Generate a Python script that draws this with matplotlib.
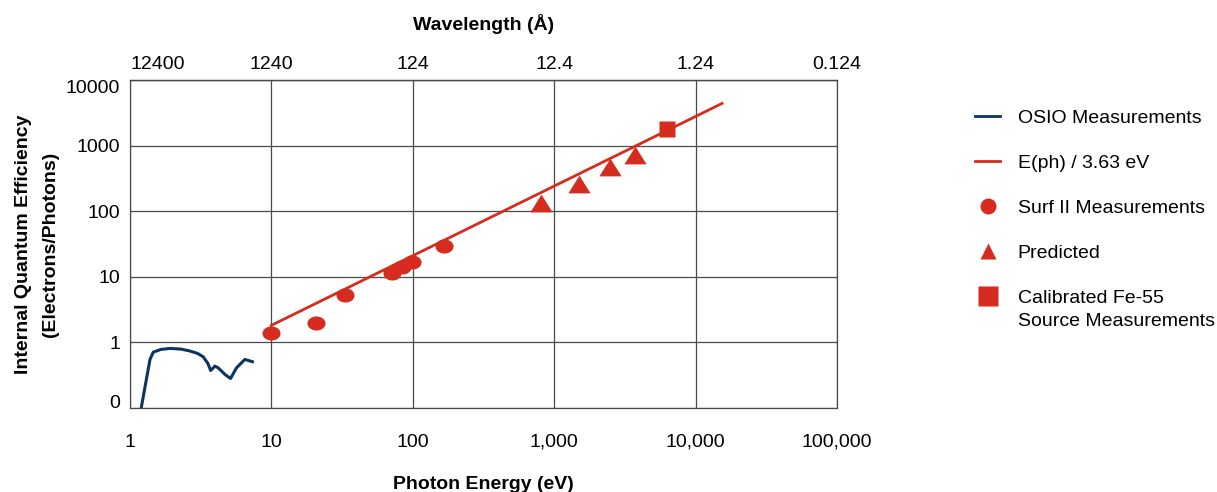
import numpy as np
import matplotlib
matplotlib.use("Agg")
import matplotlib.pyplot as plt
from matplotlib.lines import Line2D
from matplotlib.path import Path

plt.rcParams['font.family'] = ['Liberation Sans', 'DejaVu Sans']

# ---- data ----
osio_energy = [1.2, 1.385, 1.46, 1.65, 1.92, 2.3, 2.65, 3.0, 3.29, 3.55, 3.72, 3.99, 4.2, 4.69, 5.14, 5.67, 6.49, 7.52]
osio_qe = [0.1, 0.55, 0.71, 0.78, 0.81, 0.79, 0.74, 0.68, 0.605, 0.48, 0.373, 0.435, 0.41, 0.325, 0.282, 0.41, 0.55, 0.50]

theory_energy = [10, 15400]
theory_qe = [1.82, 4400]

surf_energy = [10, 20.6, 33, 71.4, 83.6, 98.9, 166]
surf_qe = [1.41, 1.97, 5.2, 11.6, 14.1, 16.8, 29.2]

pred_energy = [807, 1490, 2467, 3705]
pred_qe = [132, 261, 465, 716]

fe55_energy = [6310]
fe55_qe = [1786]

x_ticks = [1, 10, 100, 1000, 10000, 100000]
x_ticklabels = ['1', '10', '100', '1,000', '10,000', '100,000']
wl_ticks = [12400, 1240, 124, 12.4, 1.24, 0.124]
wl_ticklabels = ['12400', '1240', '124', '12.4', '1.24', '0.124']
y_ticks = [0.1, 1, 10, 100, 1000, 10000]
y_ticklabels = ['0', '1', '10', '100', '1000', '10000']

labels = ['OSIO Measurements', 'E(ph) / 3.63 eV', 'Surf II Measurements',
          'Predicted', 'Calibrated Fe-55']
label_extra = 'Source Measurements'

RED = '#d62b1f'
NAVY = '#0c3461'
GRID = '#4a4a4a'

fig = plt.figure(figsize=(12.17, 4.92), dpi=100)
ax = fig.add_axes([130/1217, 1-408/492, (837-130)/1217, (408-80)/492])
ax.set_xscale('log')
ax.set_yscale('log')
ax.set_xlim(1, 100000)
ax.set_ylim(0.1, 10000)

# ellipse marker (wider than tall)
t = np.linspace(0, 2*np.pi, 60)
ell = Path(np.column_stack([np.cos(t), 0.78*np.sin(t)]), closed=True)
tri = Path([(0, 0.8), (-1, -0.8), (1, -0.8), (0, 0.8)], closed=True)

ax.plot(osio_energy, osio_qe, color=NAVY, lw=2.2, zorder=3, solid_capstyle='butt')
ax.plot(theory_energy, theory_qe, color=RED, lw=2.0, zorder=3)
ax.plot(surf_energy, surf_qe, ls='none', marker=ell, ms=13, color=RED, mec='none', zorder=4)
ax.plot(pred_energy, pred_qe, ls='none', marker=tri, ms=16, color=RED, mec='none', zorder=4)
ax.plot(fe55_energy, fe55_qe, ls='none', marker='s', ms=11.3, color=RED, mec='none', zorder=4)

ax.set_xticks(x_ticks)
ax.set_xticklabels(x_ticklabels)
ax.set_yticks(y_ticks)
ylabs = ax.set_yticklabels(y_ticklabels)
ylabs[0].set_va('baseline')
ylabs[-1].set_va('top')
ax.minorticks_off()
ax.tick_params(axis='x', length=0, pad=18.5, labelsize=14)
ax.tick_params(axis='y', length=0, pad=7, labelsize=14)
ax.grid(True, which='major', color=GRID, lw=0.9)
for s in ax.spines.values():
    s.set_color(GRID)
    s.set_linewidth(0.9)

ax.set_xlabel('Photon Energy (eV)', fontsize=14, fontweight='bold', labelpad=18)
ax.set_ylabel('Internal Quantum Efficiency\n(Electrons/Photons)', fontsize=14,
              fontweight='bold', labelpad=5, linespacing=1.8)

sec = ax.secondary_xaxis('top', functions=(lambda e: 12400/e, lambda w: 12400/w))
sec.set_xticks(wl_ticks)
tlabs = sec.set_xticklabels(wl_ticklabels)
tlabs[0].set_ha('left')
sec.minorticks_off()
sec.tick_params(axis='x', length=0, pad=5, labelsize=14)
sec.spines['top'].set_color(GRID)
sec.spines['top'].set_linewidth(0.9)
sec.set_xlabel('Wavelength (Å)', fontsize=14, fontweight='bold', labelpad=19)

handles = [
    Line2D([], [], color=NAVY, lw=2.0),
    Line2D([], [], color=RED, lw=2.0),
    Line2D([], [], ls='none', marker='o', ms=11.5, color=RED, mec='none'),
    Line2D([], [], ls='none', marker='^', ms=12, color=RED, mec='none'),
    Line2D([], [], ls='none', marker='s', ms=13.7, color=RED, mec='none'),
]
fig.legend(handles, labels, loc='upper left', bbox_to_anchor=(975/1217, 1-109/492),
           frameon=False, borderpad=0, borderaxespad=0, fontsize=14,
           handlelength=1.3, handletextpad=0.9, labelspacing=1.41)
fig.text(1018/1217, 1-321/492, label_extra, fontsize=14, ha='left', va='center')

fig.savefig('out.png', dpi=100)
